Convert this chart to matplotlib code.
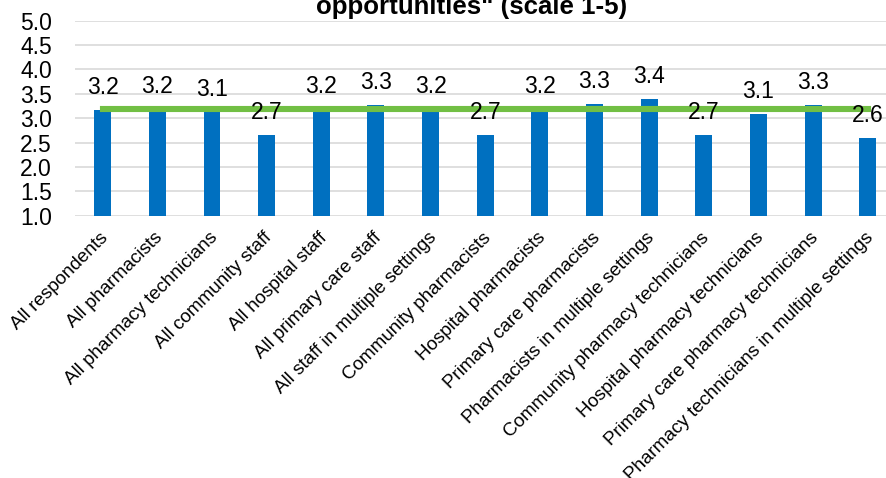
import matplotlib
matplotlib.use("Agg")
import matplotlib.pyplot as plt
import matplotlib.transforms as mtransforms
import numpy as np

plt.rcParams['font.family'] = ['Liberation Sans', 'DejaVu Sans']

groups = ["All respondents", "All pharmacists", "All pharmacy technicians",
          "All community staff", "All hospital staff", "All primary care staff",
          "All staff in multiple settings", "Community pharmacists",
          "Hospital pharmacists", "Primary care pharmacists",
          "Pharmacists in multiple settings", "Community pharmacy technicians",
          "Hospital pharmacy technicians", "Primary care pharmacy technicians",
          "Pharmacy technicians in multiple settings"]
scores = [3.17, 3.18, 3.12, 2.66, 3.18, 3.27, 3.18, 2.66, 3.19, 3.29,
          3.40, 2.66, 3.08, 3.27, 2.60]
overall = 3.18  # all-respondents average line

fig = plt.figure(figsize=(8.87, 4.78), dpi=100)
ax = fig.add_axes([75.4 / 887, 1 - 215.7 / 478, (895 - 75.4) / 887, 195 / 478])

x = np.arange(len(groups))
ax.bar(x, scores, width=0.31, bottom=0, color='#0070C0', zorder=2)
ax.plot([x[0], x[-1]], [overall, overall], color='#71BF44', lw=4.4,
        solid_capstyle='projecting', zorder=3)

for xi, v in zip(x, scores):
    ax.annotate(f"{v:.1f}", (xi, v), xytext=(0, 11.5), textcoords='offset points',
                ha='center', va='baseline', fontsize=16.5, zorder=4)

ax.set_xlim(-0.5, len(groups) - 0.5)
ax.set_ylim(1.0, 5.0)
ax.set_yticks(np.arange(1.0, 5.01, 0.5))
ax.set_yticklabels([f"{t:.1f}" for t in np.arange(1.0, 5.01, 0.5)], fontsize=16.5)
ax.set_xticks(x)
ax.set_xticklabels(groups, rotation=45, ha='right', va='center',
                   rotation_mode='anchor', fontsize=13.6)
ax.tick_params(axis='both', length=0)
ax.tick_params(axis='y', pad=17)
ax.tick_params(axis='x', pad=14)
offset = mtransforms.ScaledTranslation(3 / 100, 0, fig.dpi_scale_trans)
for lab in ax.get_xticklabels():
    lab.set_transform(lab.get_transform() + offset)

ax.grid(axis='y', color='#D9D9D9', lw=1.2, zorder=0)
ax.set_axisbelow(True)
for s in ax.spines.values():
    s.set_visible(False)

fig.text(472 / 887, 1 - 14 / 478, 'opportunities" (scale 1-5)', ha='center',
         va='baseline', fontsize=18.6, fontweight='bold')

fig.savefig("out.png", dpi=100)
